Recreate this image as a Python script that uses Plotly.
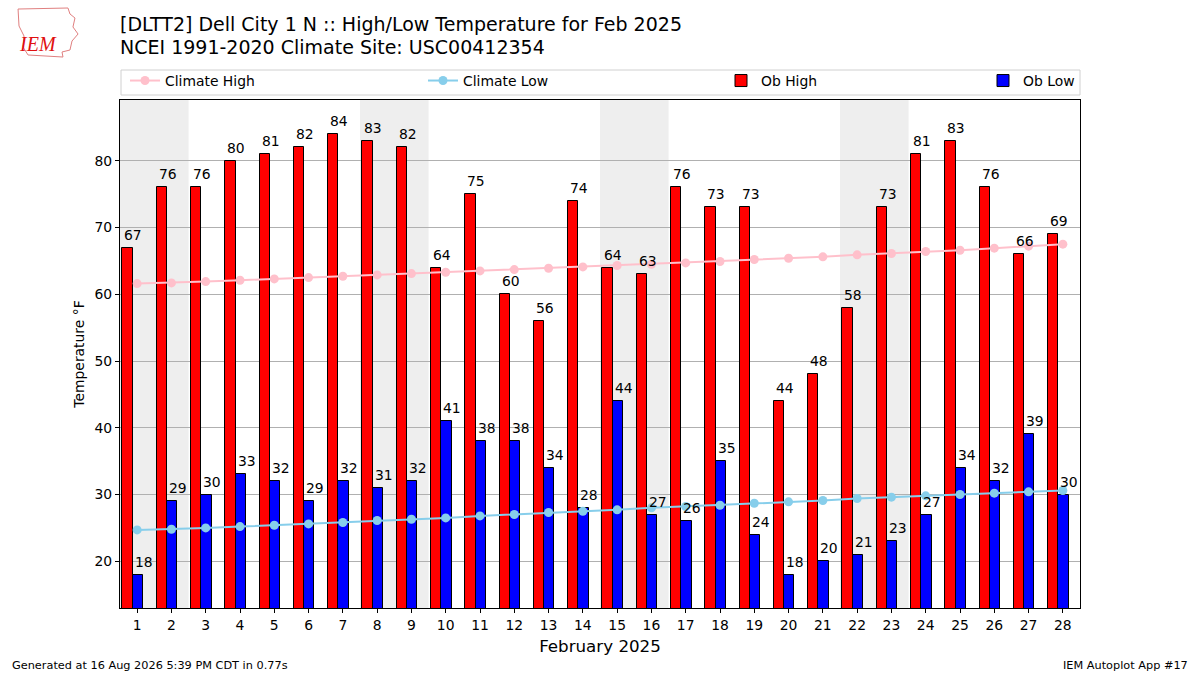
import plotly.graph_objects as go

# Feb 2025 daily observations at DLTT2 plus NCEI 1991-2020 daily climate
days = list(range(1, 29))
ob_high = [67, 76, 76, 80, 81, 82, 84, 83, 82, 64, 75, 60, 56, 74,
           64, 63, 76, 73, 73, 44, 48, 58, 73, 81, 83, 76, 66, 69]
ob_low = [18, 29, 30, 33, 32, 29, 32, 31, 32, 41, 38, 38, 34, 28,
          44, 27, 26, 35, 24, 18, 20, 21, 23, 27, 34, 32, 39, 30]
climate_high = [61.6, 61.7, 61.9, 62.1, 62.3, 62.5, 62.7, 62.9, 63.1, 63.3,
                63.5, 63.7, 63.9, 64.1, 64.3, 64.5, 64.7, 64.9, 65.2, 65.4,
                65.6, 65.9, 66.1, 66.4, 66.6, 66.9, 67.2, 67.5]
climate_low = [24.7, 24.8, 25.0, 25.2, 25.4, 25.6, 25.8, 26.1, 26.3, 26.5,
               26.8, 27.0, 27.3, 27.5, 27.7, 28.0, 28.2, 28.4, 28.7, 28.9,
               29.1, 29.4, 29.6, 29.8, 30.0, 30.2, 30.4, 30.6]
weekend_starts = [1, 8, 15, 22]  # Saturdays
yticks = [20, 30, 40, 50, 60, 70, 80]

W, H = 1200, 675
ML, MR, MT, MB = 120, 120, 100, 67
FONT = "DejaVu Sans"
BAR_W = 0.3
HIGH_OFF = -0.43
LOW_OFF = HIGH_OFF + BAR_W


def px(x, y):
    # pixel position -> paper coords of the plot area
    return (x - ML) / (W - ML - MR), (H - MB - y) / (H - MT - MB)


fig = go.Figure()

fig.add_trace(go.Bar(
    x=days, y=ob_high, width=BAR_W, offset=HIGH_OFF, name="Ob High",
    marker=dict(color="red", line=dict(color="black", width=1)),
    legend="legend", legendrank=3, hoverinfo="y",
))
fig.add_trace(go.Bar(
    x=days, y=ob_low, width=BAR_W, offset=LOW_OFF, name="Ob Low",
    marker=dict(color="blue", line=dict(color="black", width=1)),
    legend="legend2", hoverinfo="y",
))
fig.add_trace(go.Scatter(
    x=days, y=climate_high, mode="lines+markers", name="Climate High",
    line=dict(color="pink", width=2), marker=dict(color="pink", size=9),
    legend="legend", legendrank=1,
))
fig.add_trace(go.Scatter(
    x=days, y=climate_low, mode="lines+markers", name="Climate Low",
    line=dict(color="skyblue", width=2), marker=dict(color="skyblue", size=9),
    legend="legend", legendrank=2,
))

# value labels, left aligned on each bar
annotations = []
for d, hi, lo in zip(days, ob_high, ob_low):
    for off, val in ((HIGH_OFF, hi), (LOW_OFF, lo)):
        annotations.append(dict(
            x=d + off, y=val, xref="x", yref="y", text=str(val),
            showarrow=False, xanchor="left", yanchor="bottom", yshift=3,
            font=dict(family=FONT, size=13.9, color="black"),
        ))

# weekend shading
shapes = []
for s in weekend_starts:
    shapes.append(dict(type="rect", xref="x", yref="paper", x0=s - 0.5, x1=s + 1.5,
                       y0=0, y1=1, fillcolor="#eeeeee", line=dict(width=0),
                       layer="below"))

# legend frame
lx0, ly0 = px(121, 95)
lx1, ly1 = px(1080, 70)
shapes.append(dict(type="rect", xref="paper", yref="paper", x0=lx0, x1=lx1,
                   y0=ly0, y1=ly1, line=dict(color="#d0d0d0", width=1),
                   fillcolor="white", layer="above"))

# logo outline (rough state outline) and text
logo_pts = [(18, 9), (68, 8), (70, 14), (75, 18), (73, 27), (78, 34),
            (72, 41), (70, 50), (62, 52), (63, 57), (28, 55), (23, 47),
            (24, 36), (19, 26), (18, 9)]
path = ""
for i, (x, y) in enumerate(logo_pts):
    qx, qy = px(x, y)
    path += ("M" if i == 0 else "L") + f"{qx:.4f},{qy:.4f} "
shapes.append(dict(type="path", xref="paper", yref="paper", path=path + "Z",
                   line=dict(color="#e08080", width=1)))


def add_text(x, y, text, size, anchor="left", color="black", family=FONT):
    qx, qy = px(x, y)
    annotations.append(dict(x=qx, y=qy, xref="paper", yref="paper", text=text,
                            showarrow=False, xanchor=anchor, yanchor="middle",
                            font=dict(family=family, size=size, color=color)))


add_text(118, 24, "[DLTT2] Dell City 1 N :: High/Low Temperature for Feb 2025", 19)
add_text(118, 47, "NCEI 1991-2020 Climate Site: USC00412354", 19)
add_text(10, 665, "Generated at 16 Aug 2026 5:39 PM CDT in 0.77s", 11.3)
add_text(1190, 665, "IEM Autoplot App #17", 11.3, anchor="right")
add_text(38, 44, "<i>IEM</i>", 20, anchor="center", color="#e01010",
         family="Liberation Serif")

leg_font = dict(family=FONT, size=13.9, color="black")
l1x, l1y = px(125, 65)
l2x, _ = px(983, 65)

fig.update_layout(
    width=W, height=H,
    margin=dict(l=ML, r=MR, t=MT, b=MB),
    plot_bgcolor="white", paper_bgcolor="white",
    barmode="overlay", bargap=0,
    font=dict(family=FONT, size=13.9, color="black"),
    showlegend=True,
    legend=dict(orientation="h", x=l1x, y=l1y, xanchor="left", yanchor="top",
                entrywidth=253, entrywidthmode="pixels", bgcolor="rgba(0,0,0,0)",
                font=leg_font, traceorder="normal"),
    legend2=dict(orientation="h", x=l2x, y=l1y, xanchor="left", yanchor="top",
                 bgcolor="rgba(0,0,0,0)", font=leg_font),
    xaxis=dict(range=[0.5, 28.5], tickvals=days, ticktext=[str(d) for d in days],
               showgrid=False, zeroline=False, showline=True, mirror=True,
               linecolor="black", linewidth=1, ticks="outside", ticklen=4,
               tickcolor="black", tickfont=dict(family=FONT, size=13.9),
               title=dict(text="February 2025", font=dict(family=FONT, size=16.7),
                          standoff=8)),
    yaxis=dict(range=[13.0, 89.1], tickvals=yticks, showgrid=True,
               gridcolor="#b0b0b0", gridwidth=1, zeroline=False, showline=True,
               mirror=True, linecolor="black", linewidth=1, ticks="outside",
               ticklen=4, tickcolor="black", tickfont=dict(family=FONT, size=13.9),
               title=dict(text="Temperature °F", font=dict(family=FONT, size=13.9),
                          standoff=6)),
    shapes=shapes,
    annotations=annotations,
)

fig.write_html("out.html", config={"displayModeBar": False},
               post_script="document.body.style.margin='0';")
